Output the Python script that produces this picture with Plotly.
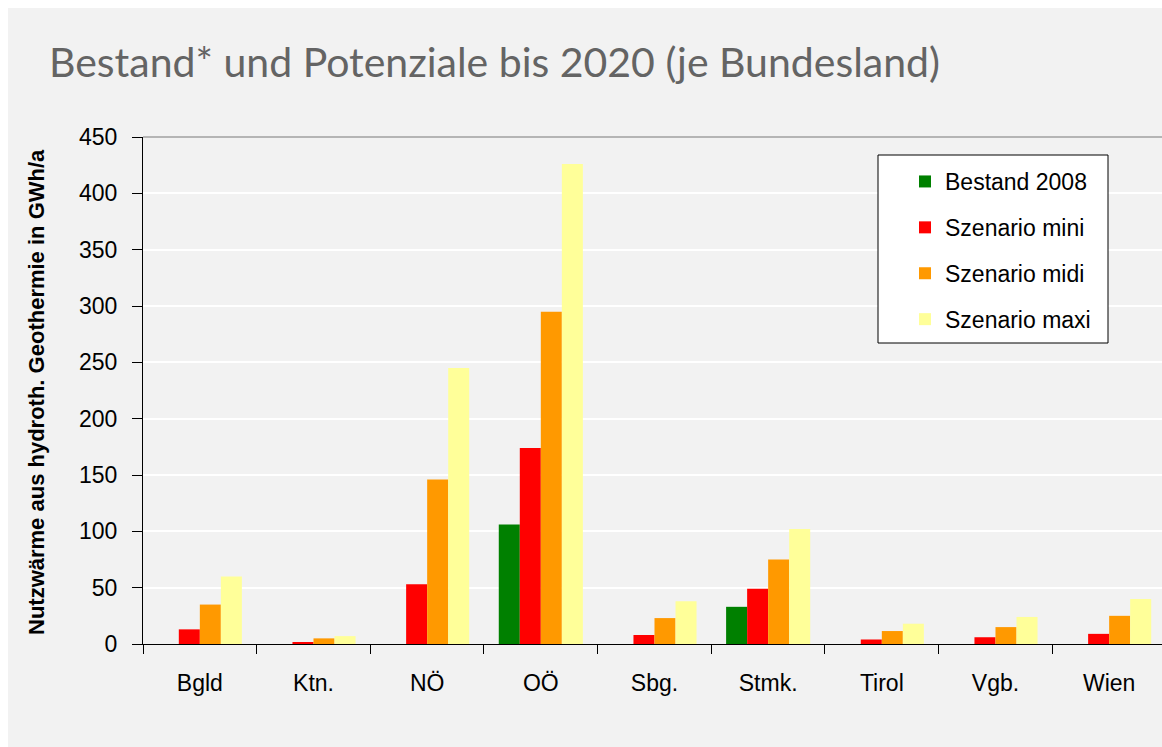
import plotly.graph_objects as go

# Bundesländer and heat potentials (GWh/a)
laender = ["Bgld", "Ktn.", "NÖ", "OÖ", "Sbg.", "Stmk.", "Tirol", "Vgb.", "Wien"]
bestand_2008 = [0, 0, 0, 106, 0, 33, 0, 0, 0]
szenario_mini = [13, 1.5, 53, 174, 8, 49, 4, 6, 9]
szenario_midi = [35, 5, 146, 295, 23, 75, 11.5, 15, 25]
szenario_maxi = [60, 7, 245, 426, 38, 102, 18, 24, 40]

series = [
    ("Bestand 2008", bestand_2008, "#008000"),
    ("Szenario mini", szenario_mini, "#ff0000"),
    ("Szenario midi", szenario_midi, "#ff9900"),
    ("Szenario maxi", szenario_maxi, "#ffff99"),
]

W, H = 1162, 747
ML, MR, MT, MB = 143, 0, 137, 103
PW, PH = W - ML - MR, H - MT - MB


def px_x(x):
    return (x - ML) / PW


def px_y(y):
    return (H - MB - y) / PH


fig = go.Figure()
for name, vals, col in series:
    fig.add_trace(go.Bar(
        name=name, x=laender, y=vals, marker_color=col,
        marker_line_width=0, legendgroup=name,
    ))

axis_font = dict(family="Liberation Sans, Arial, sans-serif", size=23, color="#000000")

fig.update_layout(
    width=W, height=H,
    paper_bgcolor="#ffffff",
    plot_bgcolor="#c0c0c0",
    margin=dict(l=ML, r=MR, t=MT, b=MB),
    barmode="group", bargap=0.26, bargroupgap=0,
    showlegend=True,
    legend=dict(
        x=px_x(905), y=px_y(160), xanchor="left", yanchor="top",
        bgcolor="rgba(0,0,0,0)", borderwidth=0,
        font=dict(family="Liberation Sans, Arial, sans-serif", size=23, color="#000000"),
        tracegroupgap=13, itemwidth=30, traceorder="grouped",
    ),
    xaxis=dict(
        range=[-0.5, 8.465], showgrid=False,
        showline=True, linecolor="#000000", linewidth=1,
        ticks="outside", tickson="boundaries", ticklen=9, tickcolor="#000000",
        tickfont=axis_font, ticklabelstandoff=18, fixedrange=True,
    ),
    yaxis=dict(
        range=[0, 450], dtick=50, showgrid=True, gridcolor="#ffffff", gridwidth=1.5,
        showline=True, linecolor="#000000", linewidth=1, zeroline=False,
        ticks="outside", ticklen=10, tickcolor="#000000",
        tickfont=axis_font, ticklabelstandoff=10, fixedrange=True,
    ),
    shapes=[
        # light panel behind the chart
        dict(type="rect", xref="paper", yref="paper", layer="below",
             x0=px_x(8), x1=px_x(W + 5), y0=px_y(H + 5), y1=px_y(8),
             fillcolor="#f2f2f2", line_width=0),
        # plot frame top edge
        dict(type="line", xref="paper", yref="paper", x0=0, x1=1, y0=1, y1=1,
             line=dict(color="#a0a0a0", width=1.5), layer="above"),
        # legend box
        dict(type="rect", xref="paper", yref="paper", layer="above",
             x0=px_x(878), x1=px_x(1108), y0=px_y(343), y1=px_y(155),
             fillcolor="#ffffff", line=dict(color="#000000", width=1)),
    ],
    annotations=[
        dict(text="Bestand* und Potenziale bis 2020 (je Bundesland)",
             xref="paper", yref="paper", x=px_x(47), y=px_y(62),
             xanchor="left", yanchor="middle", showarrow=False,
             font=dict(family="Lato, Open Sans, sans-serif", size=41, color="#646464")),
        dict(text="<b>Nutzwärme aus hydroth. Geothermie in GWh/a</b>",
             xref="paper", yref="paper", textangle=-90,
             x=px_x(36), y=px_y(392),
             xanchor="center", yanchor="middle", showarrow=False,
             font=dict(family="Liberation Sans, Arial, sans-serif", size=22, color="#000000")),
    ],
)

fig.write_html("out.html")
